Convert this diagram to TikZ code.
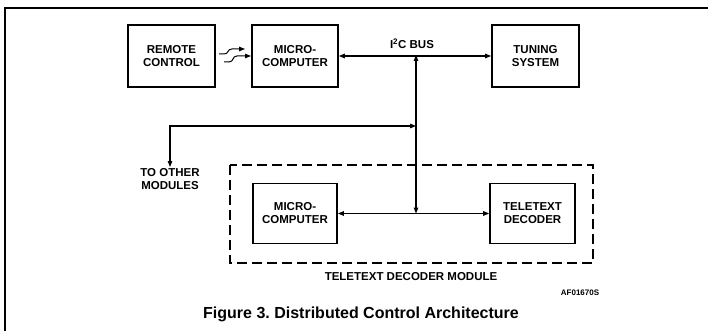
\documentclass[tikz,border=0pt]{standalone}
\usepackage{fontspec}
\setmainfont{Liberation Sans}
\usetikzlibrary{arrows.meta,positioning,calc}

\begin{document}
\begin{tikzpicture}[
    x=1pt, y=-1pt,
    unit/.style={rectangle, draw, line width=1.6pt, minimum width=87pt, minimum height=62pt, align=center, font=\fontsize{11.5}{13}\selectfont\bfseries},
    caption/.style={align=center, font=\fontsize{11.5}{13}\selectfont\bfseries},
    biarrow/.style={{Triangle[length=6pt,width=4.5pt]}-{Triangle[length=6pt,width=4.5pt]}, line width=1.2pt},
    arrow/.style={-{Triangle[length=6pt,width=4.5pt]}, line width=1.2pt},
    module/.style={draw, line width=1.6pt, dash pattern=on 10pt off 5pt}
]
  \useasboundingbox (0,0) rectangle (708,331);
  % frame
  \draw[line width=1.2pt] (5,331) -- (5,8) -- (708,8);

  % Top row
  \node[unit] (remote) at (171.5,56) {REMOTE\\CONTROL};
  \node[unit, minimum width=86pt] (micro) at (295,56) {MICRO-\\COMPUTER};
  \node[unit] (tuning) at (535.5,56) {TUNING\\SYSTEM};

  % Teletext decoder module
  \draw[module] (230,165) rectangle (593,263);
  \node[unit, minimum width=84pt, minimum height=60pt] (tmicro) at (295,213.5) {MICRO-\\COMPUTER};
  \node[unit, minimum width=85pt, minimum height=60pt] (decoder) at (532.5,213.5) {TELETEXT\\DECODER};
  \node[caption] (modlabel) at (411,277) {TELETEXT DECODER MODULE};

  % Bus taps
  \coordinate (tap) at (416,55);
  \coordinate (ttap) at (416,213.5);
  \coordinate (branch) at (416,126);
  \node[caption, inner sep=1pt, anchor=north] (others) at (170,167) {TO OTHER\\MODULES};

  % Labels
  \node[caption] (buslabel) at (412,44) {I\textsuperscript{2}C BUS};
  \node[font=\fontsize{8}{9}\selectfont\bfseries] (drawno) at (580,293) {AF01670S};
  \node[font=\fontsize{16}{18}\selectfont\bfseries] (figcap) at (361,314) {Figure 3.\ Distributed\ Control\ Architecture};

  % Infrared link
  \draw[arrow, line width=1pt] (219,54) -- (224,54) .. controls (229,54) and (227,49) .. (232,49) -- (245,49);
  \draw[arrow, line width=1pt] (224,62) -- (229,62) .. controls (234,62) and (232,56) .. (237,56) -- (251,56);

  % Arrows
  \draw[biarrow] (micro) -- (tuning);
  \draw[biarrow] (tap) -- (ttap);
  \draw[biarrow] (tmicro) -- (decoder);
  \draw[biarrow] (others.north) |- (branch);
\end{tikzpicture}
\end{document}
